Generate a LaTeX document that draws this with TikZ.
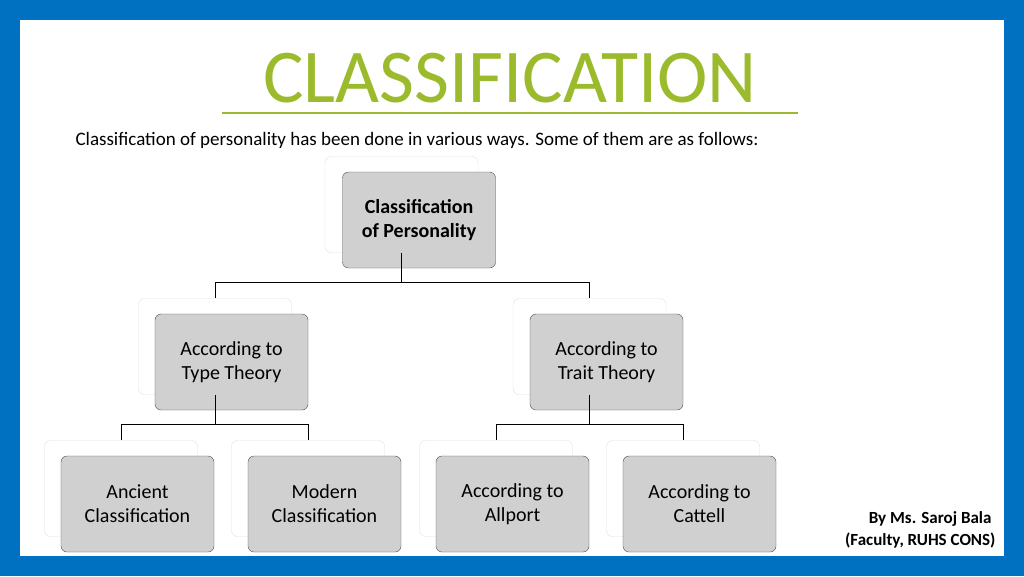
\documentclass[tikz,border=0pt]{standalone}
\usepackage{fontspec}
\setmainfont{Carlito}
\definecolor{frame}{HTML}{0070C0}
\definecolor{titleg}{HTML}{9BBB2C}
\definecolor{boxg}{HTML}{D0D0D0}
\begin{document}
\begin{tikzpicture}[x=1pt,y=-1pt,
 front/.style={draw=black!70,fill=boxg,rounded corners=6pt,minimum width=153pt,minimum height=96pt,align=center,font=\fontsize{20}{24}\selectfont,inner sep=0pt},
 back/.style={draw=black!12,fill=white,rounded corners=6pt,minimum width=153pt,minimum height=96pt,inner sep=0pt},
 conn/.style={draw=black,line width=0.8pt}]
\fill[frame] (0,0) rectangle (1024,576);
\fill[white] (20,20) rectangle (1004,556);
\useasboundingbox (0,0) rectangle (1024,576);
\node[text=titleg,font=\fontsize{76}{80}\selectfont] (title) at (510,78) {CLASSIFICATION};
\draw[titleg,line width=2.5pt] (222,113) -- (798,113);
\node[anchor=west,font=\fontsize{19}{22}\selectfont] (sub) at (72,140) {Classification of personality has been done in various ways. Some of them are as follows:};
% backs
\node[back] (b0) at (401.5,204.5) {};
\node[back] (b1) at (215,346.5) {};
\node[back] (b2) at (589.5,346.5) {};
\node[back] (b3) at (121,488.5) {};
\node[back] (b4) at (308,488.5) {};
\node[back] (b5) at (496,488.5) {};
\node[back] (b6) at (683,488.5) {};
% fronts
\node[front,font=\fontsize{20}{24}\selectfont\bfseries] (f0) at (419,220) {Classification\\of Personality};
\node[front] (f1) at (231.5,362) {According to\\Type Theory};
\node[front] (f2) at (606.5,362) {According to\\Trait Theory};
\node[front] (f3) at (137.5,504) {Ancient\\Classification};
\node[front] (f4) at (324.5,504) {Modern\\Classification};
\node[front] (f5) at (512.5,504) {According to\\Allport};
\node[front] (f6) at (699.5,504) {According to\\Cattell};
% connectors
\draw[conn] (b0.south) -- ++(0,30) -| (b1.north);
\draw[conn] (b0.south) ++(0,30) -| (b2.north);
\draw[conn] (b1.south) -- ++(0,30) -| (b3.north);
\draw[conn] (b1.south) ++(0,30) -| (b4.north);
\draw[conn] (b2.south) -- ++(0,30) -| (b5.north);
\draw[conn] (b2.south) ++(0,30) -| (b6.north);
\node[font=\fontsize{17}{20}\selectfont\bfseries,anchor=east] (by) at (995,519) {By Ms. Saroj Bala};
\node[font=\fontsize{17}{20}\selectfont\bfseries,anchor=east] (fac) at (999,541) {(Faculty, RUHS CONS)};
\end{tikzpicture}
\end{document}
